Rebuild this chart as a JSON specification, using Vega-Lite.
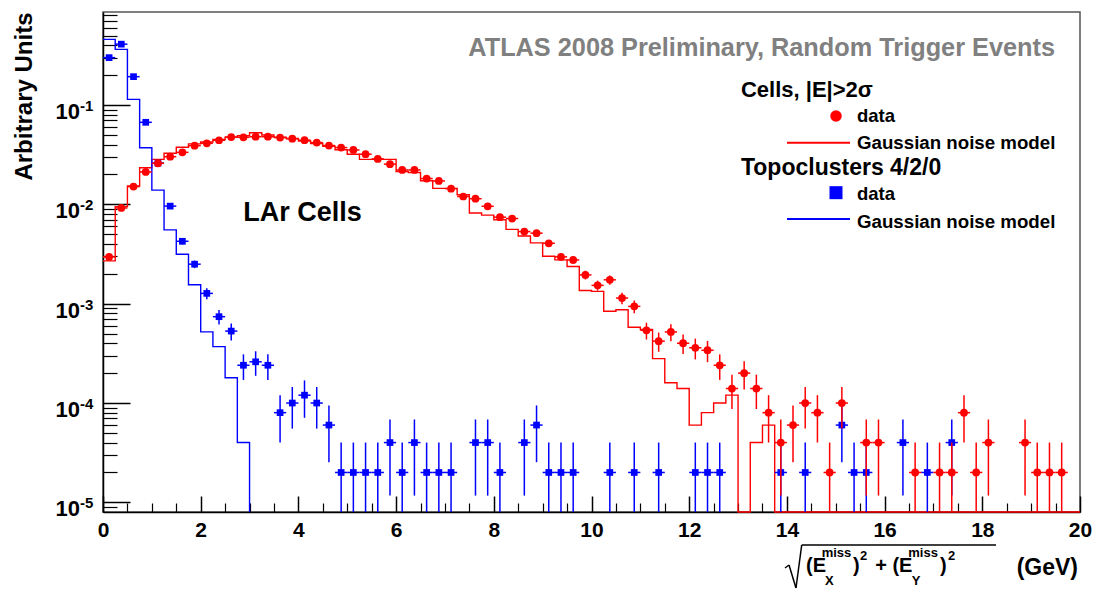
{
"$schema":"https://vega.github.io/schema/vega-lite/v6.json",
"width":977,"height":500,
"autosize":{"type":"none"},
"padding":{"left":103,"top":12,"right":18,"bottom":77},
"background":"white",
"config":{"view":{"stroke":"#555555","strokeWidth":1.5},"font":"Liberation Sans","text":{"font":"Liberation Sans","fontWeight":"bold","color":"black"}},
"resolve":{"axis":{"x":"independent","y":"independent"}},
"datasets":{
"one":[{}],
"redh":[{"x":0,"y":0.0027},{"x":0.25,"y":0.0095},{"x":0.5,"y":0.0153},{"x":0.75,"y":0.0234},{"x":1.0,"y":0.0284},{"x":1.25,"y":0.0327},{"x":1.5,"y":0.0376},{"x":1.75,"y":0.0406},{"x":2.0,"y":0.0425},{"x":2.25,"y":0.045},{"x":2.5,"y":0.0475},{"x":2.75,"y":0.049},{"x":3.0,"y":0.0526},{"x":3.25,"y":0.0499},{"x":3.5,"y":0.0475},{"x":3.75,"y":0.046},{"x":4.0,"y":0.0435},{"x":4.25,"y":0.041},{"x":4.5,"y":0.0385},{"x":4.75,"y":0.0355},{"x":5.0,"y":0.032},{"x":5.25,"y":0.0284},{"x":5.5,"y":0.0284},{"x":5.75,"y":0.0284},{"x":6.0,"y":0.0214},{"x":6.25,"y":0.0209},{"x":6.5,"y":0.0173},{"x":6.75,"y":0.0145},{"x":7.0,"y":0.0145},{"x":7.25,"y":0.0125},{"x":7.5,"y":0.0082},{"x":7.75,"y":0.0078},{"x":8.0,"y":0.007},{"x":8.25,"y":0.0056},{"x":8.5,"y":0.0048},{"x":8.75,"y":0.0041},{"x":9.0,"y":0.003},{"x":9.25,"y":0.00276},{"x":9.5,"y":0.00237},{"x":9.75,"y":0.00136},{"x":10.0,"y":0.00133},{"x":10.25,"y":0.00084},{"x":10.5,"y":0.00087},{"x":10.75,"y":0.00058},{"x":11.0,"y":0.00055},{"x":11.25,"y":0.00028},{"x":11.5,"y":0.00016},{"x":11.75,"y":0.00014},{"x":12.0,"y":0.00006},{"x":12.25,"y":0.00008},{"x":12.5,"y":0.0001},{"x":12.75,"y":0.00012},{"x":13.0,"y":0},{"x":13.25,"y":0.00004},{"x":13.5,"y":0.00006},{"x":13.75,"y":0},{"x":14.0,"y":0},{"x":14.25,"y":0},{"x":14.5,"y":0},{"x":14.75,"y":0},{"x":15.0,"y":0},{"x":15.25,"y":0},{"x":15.5,"y":0},{"x":15.75,"y":0},{"x":16.0,"y":0},{"x":16.25,"y":0},{"x":16.5,"y":0},{"x":16.75,"y":0},{"x":17.0,"y":0},{"x":17.25,"y":0},{"x":17.5,"y":0},{"x":17.75,"y":0},{"x":18.0,"y":0},{"x":18.25,"y":0},{"x":18.5,"y":0},{"x":18.75,"y":0},{"x":19.0,"y":0},{"x":19.25,"y":0},{"x":19.5,"y":0},{"x":19.75,"y":0},{"x":20.0,"y":0}],
"blueh":[{"x":0,"y":0.458},{"x":0.25,"y":0.363},{"x":0.5,"y":0.114},{"x":0.75,"y":0.0372},{"x":1.0,"y":0.0139},{"x":1.25,"y":0.00553},{"x":1.5,"y":0.00315},{"x":1.75,"y":0.00155},{"x":2.0,"y":0.00052},{"x":2.25,"y":0.00037},{"x":2.5,"y":0.00018},{"x":2.75,"y":0.00004},{"x":3.0,"y":0}],
"red":[
{"x":0.125,"xlo":0,"xhi":0.25,"y":0.00296,"lo":0.002717,"hi":0.003203},
{"x":0.375,"xlo":0.25,"xhi":0.5,"y":0.0092,"lo":0.008771,"hi":0.009629},
{"x":0.625,"xlo":0.5,"xhi":0.75,"y":0.0151,"lo":0.01455,"hi":0.01565},
{"x":0.875,"xlo":0.75,"xhi":1.0,"y":0.0212,"lo":0.02055,"hi":0.02185},
{"x":1.125,"xlo":1.0,"xhi":1.25,"y":0.0259,"lo":0.02518,"hi":0.02662},
{"x":1.375,"xlo":1.25,"xhi":1.5,"y":0.0302,"lo":0.02942,"hi":0.03098},
{"x":1.625,"xlo":1.5,"xhi":1.75,"y":0.0334,"lo":0.03258,"hi":0.03422},
{"x":1.875,"xlo":1.75,"xhi":2.0,"y":0.039,"lo":0.03812,"hi":0.03988},
{"x":2.125,"xlo":2.0,"xhi":2.25,"y":0.0412,"lo":0.04029,"hi":0.04211},
{"x":2.375,"xlo":2.25,"xhi":2.5,"y":0.0442,"lo":0.04326,"hi":0.04514},
{"x":2.625,"xlo":2.5,"xhi":2.75,"y":0.0476,"lo":0.04662,"hi":0.04858},
{"x":2.875,"xlo":2.75,"xhi":3.0,"y":0.0473,"lo":0.04633,"hi":0.04827},
{"x":3.125,"xlo":3.0,"xhi":3.25,"y":0.048,"lo":0.04702,"hi":0.04898},
{"x":3.375,"xlo":3.25,"xhi":3.5,"y":0.048,"lo":0.04702,"hi":0.04898},
{"x":3.625,"xlo":3.5,"xhi":3.75,"y":0.047,"lo":0.04603,"hi":0.04797},
{"x":3.875,"xlo":3.75,"xhi":4.0,"y":0.0458,"lo":0.04484,"hi":0.04676},
{"x":4.125,"xlo":4.0,"xhi":4.25,"y":0.0443,"lo":0.04336,"hi":0.04524},
{"x":4.375,"xlo":4.25,"xhi":4.5,"y":0.0419,"lo":0.04099,"hi":0.04282},
{"x":4.625,"xlo":4.5,"xhi":4.75,"y":0.0391,"lo":0.03822,"hi":0.03998},
{"x":4.875,"xlo":4.75,"xhi":5.0,"y":0.0373,"lo":0.03644,"hi":0.03816},
{"x":5.125,"xlo":5.0,"xhi":5.25,"y":0.0353,"lo":0.03446,"hi":0.03614},
{"x":5.375,"xlo":5.25,"xhi":5.5,"y":0.032,"lo":0.0312,"hi":0.0328},
{"x":5.625,"xlo":5.5,"xhi":5.75,"y":0.0287,"lo":0.02794,"hi":0.02946},
{"x":5.875,"xlo":5.75,"xhi":6.0,"y":0.0254,"lo":0.02469,"hi":0.02611},
{"x":6.125,"xlo":6.0,"xhi":6.25,"y":0.0222,"lo":0.02153,"hi":0.02287},
{"x":6.375,"xlo":6.25,"xhi":6.5,"y":0.0222,"lo":0.02153,"hi":0.02287},
{"x":6.625,"xlo":6.5,"xhi":6.75,"y":0.0182,"lo":0.0176,"hi":0.0188},
{"x":6.875,"xlo":6.75,"xhi":7.0,"y":0.0172,"lo":0.01661,"hi":0.01779},
{"x":7.125,"xlo":7.0,"xhi":7.25,"y":0.0144,"lo":0.01386,"hi":0.01494},
{"x":7.375,"xlo":7.25,"xhi":7.5,"y":0.012,"lo":0.01151,"hi":0.01249},
{"x":7.625,"xlo":7.5,"xhi":7.75,"y":0.0114,"lo":0.01092,"hi":0.01188},
{"x":7.875,"xlo":7.75,"xhi":8.0,"y":0.00957,"lo":0.00913,"hi":0.01001},
{"x":8.125,"xlo":8.0,"xhi":8.25,"y":0.00743,"lo":0.00705,"hi":0.00782},
{"x":8.375,"xlo":8.25,"xhi":8.5,"y":0.0072,"lo":0.00682,"hi":0.00758},
{"x":8.625,"xlo":8.5,"xhi":8.75,"y":0.00532,"lo":0.00499,"hi":0.00565},
{"x":8.875,"xlo":8.75,"xhi":9.0,"y":0.00513,"lo":0.00481,"hi":0.00545},
{"x":9.125,"xlo":9.0,"xhi":9.25,"y":0.00406,"lo":0.003775,"hi":0.004345},
{"x":9.375,"xlo":9.25,"xhi":9.5,"y":0.00296,"lo":0.002717,"hi":0.003203},
{"x":9.625,"xlo":9.5,"xhi":9.75,"y":0.00276,"lo":0.002525,"hi":0.002995},
{"x":9.875,"xlo":9.75,"xhi":10.0,"y":0.00195,"lo":0.001753,"hi":0.002148},
{"x":10.125,"xlo":10.0,"xhi":10.25,"y":0.00153,"lo":0.001355,"hi":0.001705},
{"x":10.375,"xlo":10.25,"xhi":10.5,"y":0.00174,"lo":0.001554,"hi":0.001927},
{"x":10.625,"xlo":10.5,"xhi":10.75,"y":0.00114,"lo":0.00099,"hi":0.00129},
{"x":10.875,"xlo":10.75,"xhi":11.0,"y":0.00094,"lo":0.000803,"hi":0.001077},
{"x":11.125,"xlo":11.0,"xhi":11.25,"y":0.00054,"lo":0.000436,"hi":0.000644},
{"x":11.375,"xlo":11.25,"xhi":11.5,"y":0.00042,"lo":0.000328,"hi":0.000512},
{"x":11.625,"xlo":11.5,"xhi":11.75,"y":0.00052,"lo":0.000418,"hi":0.000622},
{"x":11.875,"xlo":11.75,"xhi":12.0,"y":0.0004,"lo":0.000311,"hi":0.000489},
{"x":12.125,"xlo":12.0,"xhi":12.25,"y":0.00036,"lo":0.000275,"hi":0.000445},
{"x":12.375,"xlo":12.25,"xhi":12.5,"y":0.00034,"lo":0.000258,"hi":0.000422},
{"x":12.625,"xlo":12.5,"xhi":12.75,"y":0.00024,"lo":0.000171,"hi":0.000309},
{"x":12.875,"xlo":12.75,"xhi":13.0,"y":0.00014,"lo":0.0000871,"hi":0.000193},
{"x":13.125,"xlo":13.0,"xhi":13.25,"y":0.0002,"lo":0.000137,"hi":0.000263},
{"x":13.375,"xlo":13.25,"xhi":13.5,"y":0.00014,"lo":0.0000871,"hi":0.000193},
{"x":13.625,"xlo":13.5,"xhi":13.75,"y":0.00008,"lo":0.00004,"hi":0.00012},
{"x":13.875,"xlo":13.75,"xhi":14.0,"y":0.00004,"lo":0.0000117,"hi":0.0000683},
{"x":14.125,"xlo":14.0,"xhi":14.25,"y":0.00006,"lo":0.0000254,"hi":0.0000946},
{"x":14.375,"xlo":14.25,"xhi":14.5,"y":0.0001,"lo":0.0000553,"hi":0.000145},
{"x":14.625,"xlo":14.5,"xhi":14.75,"y":0.00008,"lo":0.00004,"hi":0.00012},
{"x":14.875,"xlo":14.75,"xhi":15.0,"y":0.00002,"lo":0,"hi":0.00004},
{"x":15.125,"xlo":15.0,"xhi":15.25,"y":0.0001,"lo":0.0000553,"hi":0.000145},
{"x":15.625,"xlo":15.5,"xhi":15.75,"y":0.00004,"lo":0.0000117,"hi":0.0000683},
{"x":15.875,"xlo":15.75,"xhi":16.0,"y":0.00004,"lo":0.0000117,"hi":0.0000683},
{"x":16.625,"xlo":16.5,"xhi":16.75,"y":0.00002,"lo":0,"hi":0.00004},
{"x":17.125,"xlo":17.0,"xhi":17.25,"y":0.00002,"lo":0,"hi":0.00004},
{"x":17.375,"xlo":17.25,"xhi":17.5,"y":0.00002,"lo":0,"hi":0.00004},
{"x":17.625,"xlo":17.5,"xhi":17.75,"y":0.00008,"lo":0.00004,"hi":0.00012},
{"x":17.875,"xlo":17.75,"xhi":18.0,"y":0.00002,"lo":0,"hi":0.00004},
{"x":18.125,"xlo":18.0,"xhi":18.25,"y":0.00004,"lo":0.0000117,"hi":0.0000683},
{"x":18.875,"xlo":18.75,"xhi":19.0,"y":0.00004,"lo":0.0000117,"hi":0.0000683},
{"x":19.125,"xlo":19.0,"xhi":19.25,"y":0.00002,"lo":0,"hi":0.00004},
{"x":19.375,"xlo":19.25,"xhi":19.5,"y":0.00002,"lo":0,"hi":0.00004},
{"x":19.625,"xlo":19.5,"xhi":19.75,"y":0.00002,"lo":0,"hi":0.00004}],
"blue":[
{"x":0.125,"xlo":0,"xhi":0.25,"y":0.30,"lo":0.2976,"hi":0.3024},
{"x":0.375,"xlo":0.25,"xhi":0.5,"y":0.41,"lo":0.4071,"hi":0.4129},
{"x":0.625,"xlo":0.5,"xhi":0.75,"y":0.193,"lo":0.191,"hi":0.195},
{"x":0.875,"xlo":0.75,"xhi":1.0,"y":0.067,"lo":0.06584,"hi":0.06816},
{"x":1.125,"xlo":1.0,"xhi":1.25,"y":0.026,"lo":0.02528,"hi":0.02672},
{"x":1.375,"xlo":1.25,"xhi":1.5,"y":0.0096,"lo":0.00916,"hi":0.01004},
{"x":1.625,"xlo":1.5,"xhi":1.75,"y":0.00425,"lo":0.00396,"hi":0.00454},
{"x":1.875,"xlo":1.75,"xhi":2.0,"y":0.0025,"lo":0.00228,"hi":0.00272},
{"x":2.125,"xlo":2.0,"xhi":2.25,"y":0.00127,"lo":0.00111,"hi":0.00143},
{"x":2.375,"xlo":2.25,"xhi":2.5,"y":0.00074,"lo":0.000618,"hi":0.000862},
{"x":2.625,"xlo":2.5,"xhi":2.75,"y":0.00053,"lo":0.000427,"hi":0.000633},
{"x":2.875,"xlo":2.75,"xhi":3.0,"y":0.00024,"lo":0.000171,"hi":0.000309},
{"x":3.125,"xlo":3.0,"xhi":3.25,"y":0.00026,"lo":0.000188,"hi":0.000332},
{"x":3.375,"xlo":3.25,"xhi":3.5,"y":0.00024,"lo":0.000171,"hi":0.000309},
{"x":3.625,"xlo":3.5,"xhi":3.75,"y":0.00008,"lo":0.00004,"hi":0.00012},
{"x":3.875,"xlo":3.75,"xhi":4.0,"y":0.0001,"lo":0.0000553,"hi":0.000145},
{"x":4.125,"xlo":4.0,"xhi":4.25,"y":0.00012,"lo":0.000071,"hi":0.000169},
{"x":4.375,"xlo":4.25,"xhi":4.5,"y":0.0001,"lo":0.0000553,"hi":0.000145},
{"x":4.625,"xlo":4.5,"xhi":4.75,"y":0.00006,"lo":0.0000254,"hi":0.0000946},
{"x":4.875,"xlo":4.75,"xhi":5.0,"y":0.00002,"lo":0,"hi":0.00004},
{"x":5.125,"xlo":5.0,"xhi":5.25,"y":0.00002,"lo":0,"hi":0.00004},
{"x":5.375,"xlo":5.25,"xhi":5.5,"y":0.00002,"lo":0,"hi":0.00004},
{"x":5.625,"xlo":5.5,"xhi":5.75,"y":0.00002,"lo":0,"hi":0.00004},
{"x":5.875,"xlo":5.75,"xhi":6.0,"y":0.00004,"lo":0.0000117,"hi":0.0000683},
{"x":6.125,"xlo":6.0,"xhi":6.25,"y":0.00002,"lo":0,"hi":0.00004},
{"x":6.375,"xlo":6.25,"xhi":6.5,"y":0.00004,"lo":0.0000117,"hi":0.0000683},
{"x":6.625,"xlo":6.5,"xhi":6.75,"y":0.00002,"lo":0,"hi":0.00004},
{"x":6.875,"xlo":6.75,"xhi":7.0,"y":0.00002,"lo":0,"hi":0.00004},
{"x":7.125,"xlo":7.0,"xhi":7.25,"y":0.00002,"lo":0,"hi":0.00004},
{"x":7.625,"xlo":7.5,"xhi":7.75,"y":0.00004,"lo":0.0000117,"hi":0.0000683},
{"x":7.875,"xlo":7.75,"xhi":8.0,"y":0.00004,"lo":0.0000117,"hi":0.0000683},
{"x":8.125,"xlo":8.0,"xhi":8.25,"y":0.00002,"lo":0,"hi":0.00004},
{"x":8.625,"xlo":8.5,"xhi":8.75,"y":0.00004,"lo":0.0000117,"hi":0.0000683},
{"x":8.875,"xlo":8.75,"xhi":9.0,"y":0.00006,"lo":0.0000254,"hi":0.0000946},
{"x":9.125,"xlo":9.0,"xhi":9.25,"y":0.00002,"lo":0,"hi":0.00004},
{"x":9.375,"xlo":9.25,"xhi":9.5,"y":0.00002,"lo":0,"hi":0.00004},
{"x":9.625,"xlo":9.5,"xhi":9.75,"y":0.00002,"lo":0,"hi":0.00004},
{"x":10.375,"xlo":10.25,"xhi":10.5,"y":0.00002,"lo":0,"hi":0.00004},
{"x":10.875,"xlo":10.75,"xhi":11.0,"y":0.00002,"lo":0,"hi":0.00004},
{"x":11.375,"xlo":11.25,"xhi":11.5,"y":0.00002,"lo":0,"hi":0.00004},
{"x":12.125,"xlo":12.0,"xhi":12.25,"y":0.00002,"lo":0,"hi":0.00004},
{"x":12.375,"xlo":12.25,"xhi":12.5,"y":0.00002,"lo":0,"hi":0.00004},
{"x":12.625,"xlo":12.5,"xhi":12.75,"y":0.00002,"lo":0,"hi":0.00004},
{"x":13.875,"xlo":13.75,"xhi":14.0,"y":0.00002,"lo":0,"hi":0.00004},
{"x":14.375,"xlo":14.25,"xhi":14.5,"y":0.00002,"lo":0,"hi":0.00004},
{"x":15.125,"xlo":15.0,"xhi":15.25,"y":0.00006,"lo":0.0000254,"hi":0.0000946},
{"x":15.375,"xlo":15.25,"xhi":15.5,"y":0.00002,"lo":0,"hi":0.00004},
{"x":15.625,"xlo":15.5,"xhi":15.75,"y":0.00002,"lo":0,"hi":0.00004},
{"x":16.375,"xlo":16.25,"xhi":16.5,"y":0.00004,"lo":0.0000117,"hi":0.0000683},
{"x":16.875,"xlo":16.75,"xhi":17.0,"y":0.00002,"lo":0,"hi":0.00004},
{"x":17.375,"xlo":17.25,"xhi":17.5,"y":0.00004,"lo":0.0000117,"hi":0.0000683}],
"ylab":[{"v":0.00001,"e":"-5"},{"v":0.0001,"e":"-4"},{"v":0.001,"e":"-3"},{"v":0.01,"e":"-2"},{"v":0.1,"e":"-1"}]
},
"layer":[
{"data":{"name":"redh"},"mark":{"type":"line","interpolate":"step-after","color":"#ff0000","strokeWidth":1.4},
 "encoding":{"x":{"field":"x","type":"quantitative","scale":{"domain":[0,20],"nice":false,"zero":false},"axis":null},
 "y":{"field":"y","type":"quantitative","scale":{"type":"log","domain":[0.000008,0.864],"nice":false,"clamp":true},"axis":null}}},
{"data":{"name":"blueh"},"mark":{"type":"line","interpolate":"step-after","color":"#0000ff","strokeWidth":1.4},
 "encoding":{"x":{"field":"x","type":"quantitative","axis":null},"y":{"field":"y","type":"quantitative","axis":null}}},
{"data":{"name":"blue"},"mark":{"type":"rule","color":"#0000ff","strokeWidth":1.5},
 "encoding":{"x":{"field":"x","type":"quantitative","axis":null},"y":{"field":"lo","type":"quantitative","axis":null},"y2":{"field":"hi"}}},
{"data":{"name":"blue"},"mark":{"type":"rule","color":"#0000ff","strokeWidth":1.5},
 "encoding":{"x":{"field":"xlo","type":"quantitative","axis":null},"x2":{"field":"xhi"},"y":{"field":"y","type":"quantitative","axis":null}}},
{"data":{"name":"blue"},"mark":{"type":"point","shape":"square","filled":true,"size":45,"color":"#0000ff","opacity":1},
 "encoding":{"x":{"field":"x","type":"quantitative","axis":{"orient":"bottom","values":[0.5,1,1.5,2.5,3,3.5,4.5,5,5.5,6.5,7,7.5,8.5,9,9.5,10.5,11,11.5,12.5,13,13.5,14.5,15,15.5,16.5,17,17.5,18.5,19,19.5],"tickSize":-9,"tickWidth":1.2,"tickColor":"black","labels":false,"domain":false,"grid":false,"title":null}},
 "y":{"field":"y","type":"quantitative","axis":{"orient":"left","values":[0.000009,0.00002,0.00003,0.00004,0.00005,0.00006,0.00007,0.00008,0.00009,0.0002,0.0003,0.0004,0.0005,0.0006,0.0007,0.0008,0.0009,0.002,0.003,0.004,0.005,0.006,0.007,0.008,0.009,0.02,0.03,0.04,0.05,0.06,0.07,0.08,0.09,0.2,0.3,0.4,0.5,0.6,0.7,0.8],"tickSize":-14,"tickWidth":1.2,"tickColor":"black","labels":false,"domain":false,"grid":false,"title":null}}}},
{"data":{"name":"red"},"mark":{"type":"rule","color":"#ff0000","strokeWidth":1.5},
 "encoding":{"x":{"field":"x","type":"quantitative","axis":null},"y":{"field":"lo","type":"quantitative","axis":null},"y2":{"field":"hi"}}},
{"data":{"name":"red"},"mark":{"type":"rule","color":"#ff0000","strokeWidth":1.5},
 "encoding":{"x":{"field":"xlo","type":"quantitative","axis":null},"x2":{"field":"xhi"},"y":{"field":"y","type":"quantitative","axis":null}}},
{"data":{"name":"red"},"mark":{"type":"point","shape":"circle","filled":true,"size":60,"color":"#ff0000","opacity":1},
 "encoding":{"x":{"field":"x","type":"quantitative","axis":{"orient":"bottom","values":[0,2,4,6,8,10,12,14,16,18,20],"format":"d","tickSize":-16,"tickWidth":1.5,"tickColor":"black","domainColor":"black","domainWidth":1.5,"labelFont":"Liberation Sans","labelFontWeight":"bold","labelFontSize":21,"labelColor":"black","labelPadding":23,"labelFlush":false,"labelOverlap":false,"grid":false,"title":null}},
 "y":{"field":"y","type":"quantitative","axis":{"orient":"left","values":[0.00001,0.0001,0.001,0.01,0.1],"tickSize":-27,"tickWidth":1.5,"tickColor":"black","domainColor":"black","domainWidth":1.5,"labels":false,"grid":false,"title":"Arbitrary Units","titleFont":"Liberation Sans","titleFontWeight":"bold","titleFontSize":24,"titleColor":"black","titleAngle":-90,"titleX":-72,"titleY":0,"titleAlign":"right","titleBaseline":"alphabetic"}}}},
{"data":{"name":"ylab"},"mark":{"type":"text","align":"right","baseline":"alphabetic","dx":-23,"dy":14,"fontSize":22},
 "encoding":{"x":{"datum":0,"type":"quantitative","axis":null},"y":{"field":"v","type":"quantitative","axis":null},"text":{"value":"10"}}},
{"data":{"name":"ylab"},"mark":{"type":"text","align":"left","baseline":"alphabetic","dx":-23,"dy":6,"fontSize":15},
 "encoding":{"x":{"datum":0,"type":"quantitative","axis":null},"y":{"field":"v","type":"quantitative","axis":null},"text":{"field":"e"}}},
{"data":{"name":"one"},"mark":{"type":"text","align":"right","baseline":"alphabetic","fontSize":25.3,"color":"#808080"},
 "encoding":{"x":{"datum":19.488,"type":"quantitative","axis":null},"y":{"datum":0.3115,"type":"quantitative","axis":null},"text":{"value":"ATLAS 2008 Preliminary, Random Trigger Events"}}},
{"data":{"name":"one"},"mark":{"type":"text","align":"left","baseline":"alphabetic","fontSize":22},
 "encoding":{"x":{"datum":13.06,"type":"quantitative","axis":null},"y":{"datum":0.1204,"type":"quantitative","axis":null},"text":{"value":"Cells, |E|>2σ"}}},
{"data":{"name":"one"},"mark":{"type":"point","shape":"circle","filled":true,"size":133,"color":"#ff0000","opacity":1},
 "encoding":{"x":{"datum":15.005,"type":"quantitative","axis":null},"y":{"datum":0.07752,"type":"quantitative","axis":null}}},
{"data":{"name":"one"},"mark":{"type":"text","align":"left","baseline":"alphabetic","fontSize":18.5},
 "encoding":{"x":{"datum":15.435,"type":"quantitative","axis":null},"y":{"datum":0.06793,"type":"quantitative","axis":null},"text":{"value":"data"}}},
{"data":{"name":"one"},"mark":{"type":"rule","color":"#ff0000","strokeWidth":2},
 "encoding":{"x":{"datum":14.002,"type":"quantitative","axis":null},"x2":{"datum":15.292},"y":{"datum":0.04176,"type":"quantitative","axis":null}}},
{"data":{"name":"one"},"mark":{"type":"text","align":"left","baseline":"alphabetic","fontSize":18.7},
 "encoding":{"x":{"datum":15.435,"type":"quantitative","axis":null},"y":{"datum":0.03634,"type":"quantitative","axis":null},"text":{"value":"Gaussian noise model"}}},
{"data":{"name":"one"},"mark":{"type":"text","align":"left","baseline":"alphabetic","fontSize":23},
 "encoding":{"x":{"datum":13.06,"type":"quantitative","axis":null},"y":{"datum":0.01975,"type":"quantitative","axis":null},"text":{"value":"Topoclusters 4/2/0"}}},
{"data":{"name":"one"},"mark":{"type":"point","shape":"square","filled":true,"size":169,"color":"#0000ff","opacity":1},
 "encoding":{"x":{"datum":15.005,"type":"quantitative","axis":null},"y":{"datum":0.01311,"type":"quantitative","axis":null}}},
{"data":{"name":"one"},"mark":{"type":"text","align":"left","baseline":"alphabetic","fontSize":18.5},
 "encoding":{"x":{"datum":15.435,"type":"quantitative","axis":null},"y":{"datum":0.01106,"type":"quantitative","axis":null},"text":{"value":"data"}}},
{"data":{"name":"one"},"mark":{"type":"rule","color":"#0000ff","strokeWidth":2},
 "encoding":{"x":{"datum":14.002,"type":"quantitative","axis":null},"x2":{"datum":15.292},"y":{"datum":0.007121,"type":"quantitative","axis":null}}},
{"data":{"name":"one"},"mark":{"type":"text","align":"left","baseline":"alphabetic","fontSize":18.7},
 "encoding":{"x":{"datum":15.435,"type":"quantitative","axis":null},"y":{"datum":0.005822,"type":"quantitative","axis":null},"text":{"value":"Gaussian noise model"}}},
{"data":{"name":"one"},"mark":{"type":"text","align":"left","baseline":"alphabetic","fontSize":27},
 "encoding":{"x":{"datum":2.872,"type":"quantitative","axis":null},"y":{"datum":0.006802,"type":"quantitative","axis":null},"text":{"value":"LAr Cells"}}},
{"data":{"name":"one"},"mark":{"type":"text","align":"left","baseline":"alphabetic","fontSize":20,"dy":60},
 "encoding":{"x":{"datum":14.391,"type":"quantitative","axis":null},"y":{"datum":0.000008,"type":"quantitative","axis":null},"text":{"value":"(E"}}},
{"data":{"name":"one"},"mark":{"type":"text","align":"left","baseline":"alphabetic","fontSize":20,"dy":60},
 "encoding":{"x":{"datum":15.353,"type":"quantitative","axis":null},"y":{"datum":0.000008,"type":"quantitative","axis":null},"text":{"value":")"}}},
{"data":{"name":"one"},"mark":{"type":"text","align":"left","baseline":"alphabetic","fontSize":20,"dy":60},
 "encoding":{"x":{"datum":15.808,"type":"quantitative","axis":null},"y":{"datum":0.000008,"type":"quantitative","axis":null},"text":{"value":"+ (E"}}},
{"data":{"name":"one"},"mark":{"type":"text","align":"left","baseline":"alphabetic","fontSize":20,"dy":60},
 "encoding":{"x":{"datum":17.134,"type":"quantitative","axis":null},"y":{"datum":0.000008,"type":"quantitative","axis":null},"text":{"value":")"}}},
{"data":{"name":"one"},"mark":{"type":"text","align":"left","baseline":"alphabetic","fontSize":23,"dy":63},
 "encoding":{"x":{"datum":18.704,"type":"quantitative","axis":null},"y":{"datum":0.000008,"type":"quantitative","axis":null},"text":{"value":"(GeV)"}}},
{"data":{"name":"one"},"mark":{"type":"text","align":"left","baseline":"alphabetic","fontSize":13,"dy":45},
 "encoding":{"x":{"datum":14.712,"type":"quantitative","axis":null},"y":{"datum":0.000008,"type":"quantitative","axis":null},"text":{"value":"miss"}}},
{"data":{"name":"one"},"mark":{"type":"text","align":"left","baseline":"alphabetic","fontSize":13,"dy":45},
 "encoding":{"x":{"datum":16.485,"type":"quantitative","axis":null},"y":{"datum":0.000008,"type":"quantitative","axis":null},"text":{"value":"miss"}}},
{"data":{"name":"one"},"mark":{"type":"text","align":"left","baseline":"alphabetic","fontSize":13,"dy":73},
 "encoding":{"x":{"datum":14.78,"type":"quantitative","axis":null},"y":{"datum":0.000008,"type":"quantitative","axis":null},"text":{"value":"X"}}},
{"data":{"name":"one"},"mark":{"type":"text","align":"left","baseline":"alphabetic","fontSize":13,"dy":73},
 "encoding":{"x":{"datum":16.555,"type":"quantitative","axis":null},"y":{"datum":0.000008,"type":"quantitative","axis":null},"text":{"value":"Y"}}},
{"data":{"name":"one"},"mark":{"type":"text","align":"left","baseline":"alphabetic","fontSize":13,"dy":48},
 "encoding":{"x":{"datum":15.496,"type":"quantitative","axis":null},"y":{"datum":0.000008,"type":"quantitative","axis":null},"text":{"value":"2"}}},
{"data":{"name":"one"},"mark":{"type":"text","align":"left","baseline":"alphabetic","fontSize":13,"dy":48},
 "encoding":{"x":{"datum":17.298,"type":"quantitative","axis":null},"y":{"datum":0.000008,"type":"quantitative","axis":null},"text":{"value":"2"}}},
{"data":{"name":"one"},"mark":{"type":"rule","color":"black","strokeWidth":1.5,"yOffset":56,"y2Offset":53},
 "encoding":{"x":{"datum":13.961,"type":"quantitative","axis":null},"x2":{"datum":14.043},"y":{"datum":0.000008,"type":"quantitative","axis":null},"y2":{"datum":0.000008}}},
{"data":{"name":"one"},"mark":{"type":"rule","color":"black","strokeWidth":1.5,"yOffset":53,"y2Offset":76},
 "encoding":{"x":{"datum":14.043,"type":"quantitative","axis":null},"x2":{"datum":14.186},"y":{"datum":0.000008,"type":"quantitative","axis":null},"y2":{"datum":0.000008}}},
{"data":{"name":"one"},"mark":{"type":"rule","color":"black","strokeWidth":1.5,"yOffset":76,"y2Offset":33},
 "encoding":{"x":{"datum":14.186,"type":"quantitative","axis":null},"x2":{"datum":14.303},"y":{"datum":0.000008,"type":"quantitative","axis":null},"y2":{"datum":0.000008}}},
{"data":{"name":"one"},"mark":{"type":"rule","color":"black","strokeWidth":1.5,"yOffset":33,"y2Offset":33},
 "encoding":{"x":{"datum":14.303,"type":"quantitative","axis":null},"x2":{"datum":18.28},"y":{"datum":0.000008,"type":"quantitative","axis":null},"y2":{"datum":0.000008}}}
]
}
